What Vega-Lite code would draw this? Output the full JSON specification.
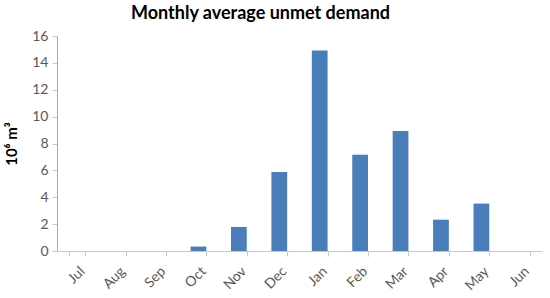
{
  "$schema": "https://vega.github.io/schema/vega-lite/v6.json",
  "autosize": "none",
  "width": 485,
  "height": 215,
  "padding": {"left": 57, "top": 36, "right": 8, "bottom": 47},
  "background": "white",
  "title": {"text": "Monthly average unmet demand", "font": "Lato", "fontSize": 18, "fontWeight": "bold", "color": "#000000", "anchor": "middle", "dx": -39, "offset": 6},
  "data": {"values": [
    {"month": "Jul", "value": 0},
    {"month": "Aug", "value": 0},
    {"month": "Sep", "value": 0},
    {"month": "Oct", "value": 0.33},
    {"month": "Nov", "value": 1.79},
    {"month": "Dec", "value": 5.88},
    {"month": "Jan", "value": 14.93},
    {"month": "Feb", "value": 7.17},
    {"month": "Mar", "value": 8.93},
    {"month": "Apr", "value": 2.33},
    {"month": "May", "value": 3.53},
    {"month": "Jun", "value": 0}
  ]},
  "mark": {"type": "bar", "color": "#4a7ebb"},
  "encoding": {
    "x": {"field": "month", "type": "nominal", "sort": null,
      "scale": {"paddingInner": 0.61, "paddingOuter": 0.305},
      "axis": {"title": null, "labelAngle": -45, "labelFont": "Lato", "labelFontSize": 14, "labelColor": "#595959", "domainColor": "#c8c8c8", "tickColor": "#c8c8c8", "tickBand": "extent", "tickSize": 5, "labelPadding": 8, "labelOffset": 0}},
    "y": {"field": "value", "type": "quantitative",
      "scale": {"domain": [0, 16], "nice": false},
      "axis": {"title": "10⁶ m³", "titleFont": "Lato", "titleFontSize": 15, "titleFontWeight": "bold", "titleColor": "#000000", "titlePadding": 12, "values": [0, 2, 4, 6, 8, 10, 12, 14, 16], "grid": false, "labelFont": "Lato", "labelFontSize": 14, "labelColor": "#595959", "domainColor": "#8eaad5", "tickColor": "#c8c8c8", "tickSize": 5, "labelPadding": 4}}
  },
  "config": {"view": {"stroke": null}}
}
